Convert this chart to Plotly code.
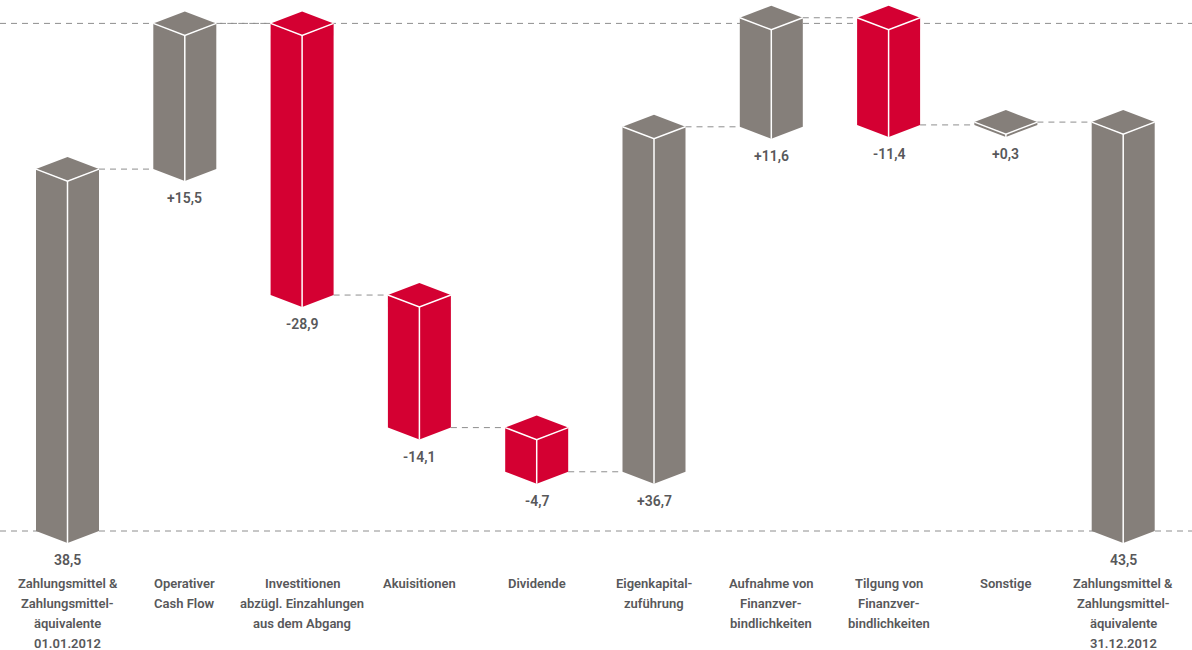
import plotly.graph_objects as go

# ---- data ----
categories = [
    "Zahlungsmittel &\nZahlungsmittel-\näquivalente\n01.01.2012",
    "Operativer\nCash Flow",
    "Investitionen\nabzügl. Einzahlungen\naus dem Abgang",
    "Akuisitionen",
    "Dividende",
    "Eigenkapital-\nzuführung",
    "Aufnahme von\nFinanzver-\nbindlichkeiten",
    "Tilgung von\nFinanzver-\nbindlichkeiten",
    "Sonstige",
    "Zahlungsmittel &\nZahlungsmittel-\näquivalente\n31.12.2012",
]
start_value = 38.5
changes = [15.5, -28.9, -14.1, -4.7, 36.7, 11.6, -11.4, 0.3]
end_value = 43.5

GRAY = "#857f7a"
RED = "#d40032"
TEXT = "#58585a"
DASH = "#8e8e8e"
FONT = "Roboto"

W, H = 1192, 650
PX_PER_UNIT = 9.4
ZERO_PX = 531
X0_PX = 67.5
STEP_PX = 117.3
HALF_W = 31.5 / STEP_PX
DEPTH = 12 / PX_PER_UNIT

# build bars (low, high, color, label)
bars = []
bars.append((0.0, start_value, GRAY, f"{start_value:.1f}".replace(".", ",")))
level = start_value
for c in changes:
    new = round(level + c, 2)
    lo, hi = min(level, new), max(level, new)
    col = GRAY if c >= 0 else RED
    lab = ("+" if c >= 0 else "-") + f"{abs(c):.1f}".replace(".", ",")
    bars.append((lo, hi, col, lab))
    level = new
bars.append((0.0, end_value, GRAY, f"{end_value:.1f}".replace(".", ",")))

# running levels for connectors
levels = [start_value]
lv = start_value
for c in changes:
    lv = round(lv + c, 2)
    levels.append(lv)

fig = go.Figure()

x_min = -X0_PX / STEP_PX
x_max = (W - X0_PX) / STEP_PX
y_max = ZERO_PX / PX_PER_UNIT
y_min = -(H - ZERO_PX) / PX_PER_UNIT

dash_style = dict(color=DASH, width=1, dash="6px,5px")
# baseline and top guideline
top_level = start_value + changes[0]
for yv in (0.0, top_level):
    fig.add_trace(go.Scatter(x=[x_min, x_max], y=[yv, yv], mode="lines",
                             line=dash_style, hoverinfo="skip", showlegend=False))
# connectors
for i, lvl in enumerate(levels):
    fig.add_trace(go.Scatter(x=[i + HALF_W, i + 1 - HALF_W], y=[lvl, lvl], mode="lines",
                             line=dash_style, hoverinfo="skip", showlegend=False))

annotations = []
for i, (lo, hi, col, lab) in enumerate(bars):
    xl, xc, xr = i - HALF_W, i, i + HALF_W
    d = DEPTH
    # left face
    fig.add_trace(go.Scatter(x=[xl, xc, xc, xl, xl], y=[lo, lo - d, hi - d, hi, lo],
                             fill="toself", fillcolor=col, mode="lines",
                             line=dict(width=0, color=col), hoverinfo="skip", showlegend=False))
    # right face
    fig.add_trace(go.Scatter(x=[xc, xr, xr, xc, xc], y=[lo - d, lo, hi, hi - d, lo - d],
                             fill="toself", fillcolor=col, mode="lines",
                             line=dict(width=0, color=col), hoverinfo="skip", showlegend=False))
    # top
    fig.add_trace(go.Scatter(x=[xl, xc, xr, xc, xl], y=[hi, hi + d, hi, hi - d, hi],
                             fill="toself", fillcolor=col, mode="lines",
                             line=dict(width=0, color=col), hoverinfo="skip", showlegend=False))
    # white edges
    fig.add_trace(go.Scatter(x=[xl, xc, xr, None, xc, xc], y=[hi, hi - d, hi, None, hi - d, lo - d],
                             mode="lines", line=dict(color="white", width=1.5),
                             hoverinfo="skip", showlegend=False))
    annotations.append(dict(x=xc, y=lo, xref="x", yref="y", text=lab, showarrow=False,
                            yanchor="middle", yshift=-(12 + 17),
                            font=dict(family=FONT, size=14, color=TEXT, weight=600)))
    for j, line in enumerate(categories[i].split("\n")):
        py = 583 + j * 20
        annotations.append(dict(x=xc, y=1 - py / H, xref="x", yref="paper", text=line,
                                showarrow=False, yanchor="middle",
                                font=dict(family=FONT, size=13, color=TEXT, weight=600)))

fig.update_layout(
    width=W, height=H, margin=dict(l=0, r=0, t=0, b=0),
    paper_bgcolor="white", plot_bgcolor="white",
    xaxis=dict(range=[x_min, x_max], visible=False, fixedrange=True),
    yaxis=dict(range=[y_min, y_max], visible=False, fixedrange=True),
    annotations=annotations, showlegend=False,
)
fig.write_html("out.html")
